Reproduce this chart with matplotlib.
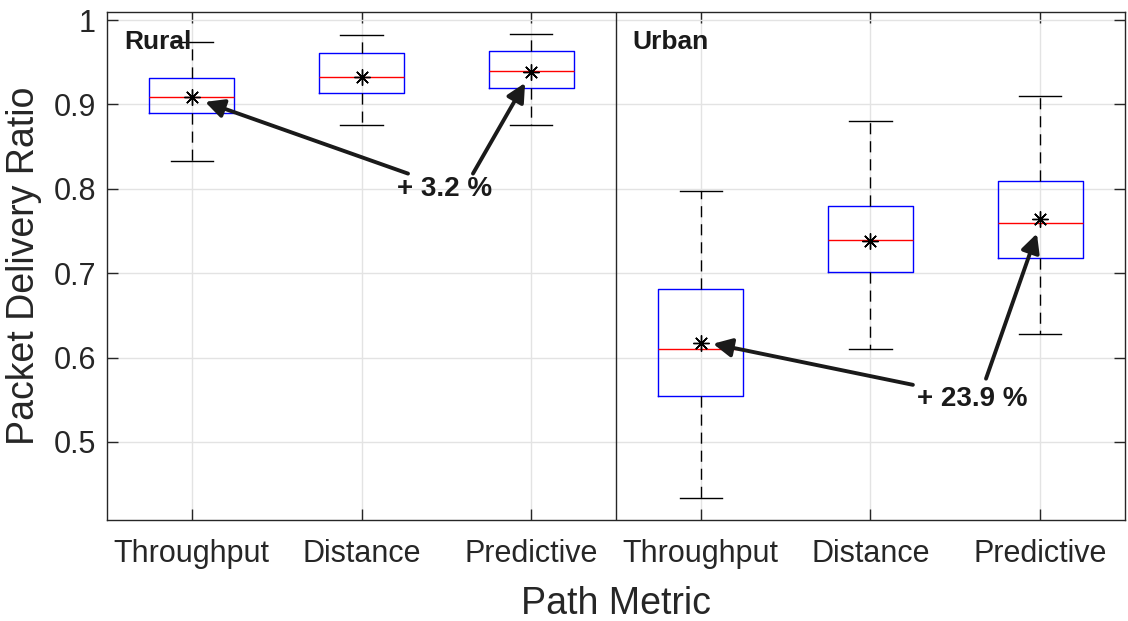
import matplotlib
matplotlib.use("Agg")
import matplotlib.pyplot as plt

plt.rcParams['font.family'] = ['Liberation Sans', 'DejaVu Sans']

# ---- data ----
categories = ["Throughput", "Distance", "Predictive", "Throughput", "Distance", "Predictive"]
groups = ["Rural", "Urban"]
whisker_low = [0.833, 0.875, 0.876, 0.434, 0.610, 0.628]
q1 = [0.890, 0.914, 0.919, 0.554, 0.701, 0.718]
median = [0.909, 0.933, 0.940, 0.610, 0.739, 0.759]
q3 = [0.931, 0.961, 0.963, 0.681, 0.780, 0.809]
whisker_high = [0.974, 0.982, 0.983, 0.797, 0.880, 0.910]
mean = [0.909, 0.933, 0.938, 0.617, 0.738, 0.764]
gain_labels = ["+ 3.2 %", "+ 23.9 %"]
yticks = [0.5, 0.6, 0.7, 0.8, 0.9, 1.0]
ytick_labels = ["0.5", "0.6", "0.7", "0.8", "0.9", "1"]

fig = plt.figure(figsize=(11.28, 6.21), dpi=100)
ax = fig.add_axes([0.0949, 0.1626, 0.9024, 0.8181])

positions = list(range(1, len(categories) + 1))
stats = []
for i in range(len(categories)):
    stats.append(dict(med=median[i], q1=q1[i], q3=q3[i],
                      whislo=whisker_low[i], whishi=whisker_high[i],
                      mean=mean[i], fliers=[], label=categories[i]))

ax.bxp(stats, positions=positions, widths=0.5, showmeans=True,
       showfliers=False,
       boxprops=dict(color='#0000FF', linewidth=1.0),
       medianprops=dict(color='#FF0000', linewidth=1.0),
       whiskerprops=dict(color='#000000', linewidth=1.0, linestyle=(0, (8, 5))),
       capprops=dict(color='#000000', linewidth=1.0),
       capwidths=0.25,
       meanprops=dict(marker=(8, 2, 0), markersize=11.5, markeredgewidth=1.0,
                      markeredgecolor='#000000', markerfacecolor='#000000',
                      linestyle='none'),
       zorder=3)

ax.set_xlim(0.5, 6.5)
ax.set_ylim(0.4075, 1.0095)
ax.set_yticks(yticks)
ax.set_yticklabels(ytick_labels)
ax.set_xticks(positions)
ax.set_xticklabels(categories)

ax.axvline(3.5, color='#262626', linewidth=1.0, zorder=4)

ax.grid(True, color='#e3e3e3', linewidth=1.0, zorder=0)
ax.set_axisbelow(True)
for s in ax.spines.values():
    s.set_color('#262626')
    s.set_linewidth(1.0)
ax.tick_params(axis='both', direction='in', length=8, width=1.0, color='#262626',
               labelcolor='#262626', labelsize=22, top=True, right=True)
ax.tick_params(axis='x', pad=14)
ax.tick_params(axis='y', pad=8)

ax.set_xlabel("Path Metric", fontsize=27, color='#262626', labelpad=12)
ax.set_ylabel("Packet Delivery Ratio", fontsize=27, color='#262626', labelpad=8)

ax.text(0.6, 0.974, groups[0], fontsize=19, fontweight='bold', color='#1a1a1a',
        ha='left', va='center', zorder=5)
ax.text(3.594, 0.974, groups[1], fontsize=19, fontweight='bold', color='#1a1a1a',
        ha='left', va='center', zorder=5)

arrow = dict(arrowstyle='-|>', color='#1a1a1a', lw=2.8, mutation_scale=28,
             shrinkA=0, shrinkB=0)
# Rural annotation
ax.text(2.492, 0.7995, gain_labels[0], fontsize=20, fontweight='bold',
        color='#1a1a1a', ha='center', va='center', zorder=5)
ax.annotate("", xy=(1.078, 0.903), xytext=(2.274, 0.818), arrowprops=arrow, zorder=5)
ax.annotate("", xy=(2.964, 0.9255), xytext=(2.657, 0.818), arrowprops=arrow, zorder=5)
# Urban annotation
ax.text(5.598, 0.551, gain_labels[1], fontsize=20, fontweight='bold',
        color='#1a1a1a', ha='center', va='center', zorder=5)
ax.annotate("", xy=(4.072, 0.6164), xytext=(5.250, 0.5677), arrowprops=arrow, zorder=5)
ax.annotate("", xy=(5.981, 0.747), xytext=(5.681, 0.575), arrowprops=arrow, zorder=5)

fig.savefig("out.png", dpi=100)
